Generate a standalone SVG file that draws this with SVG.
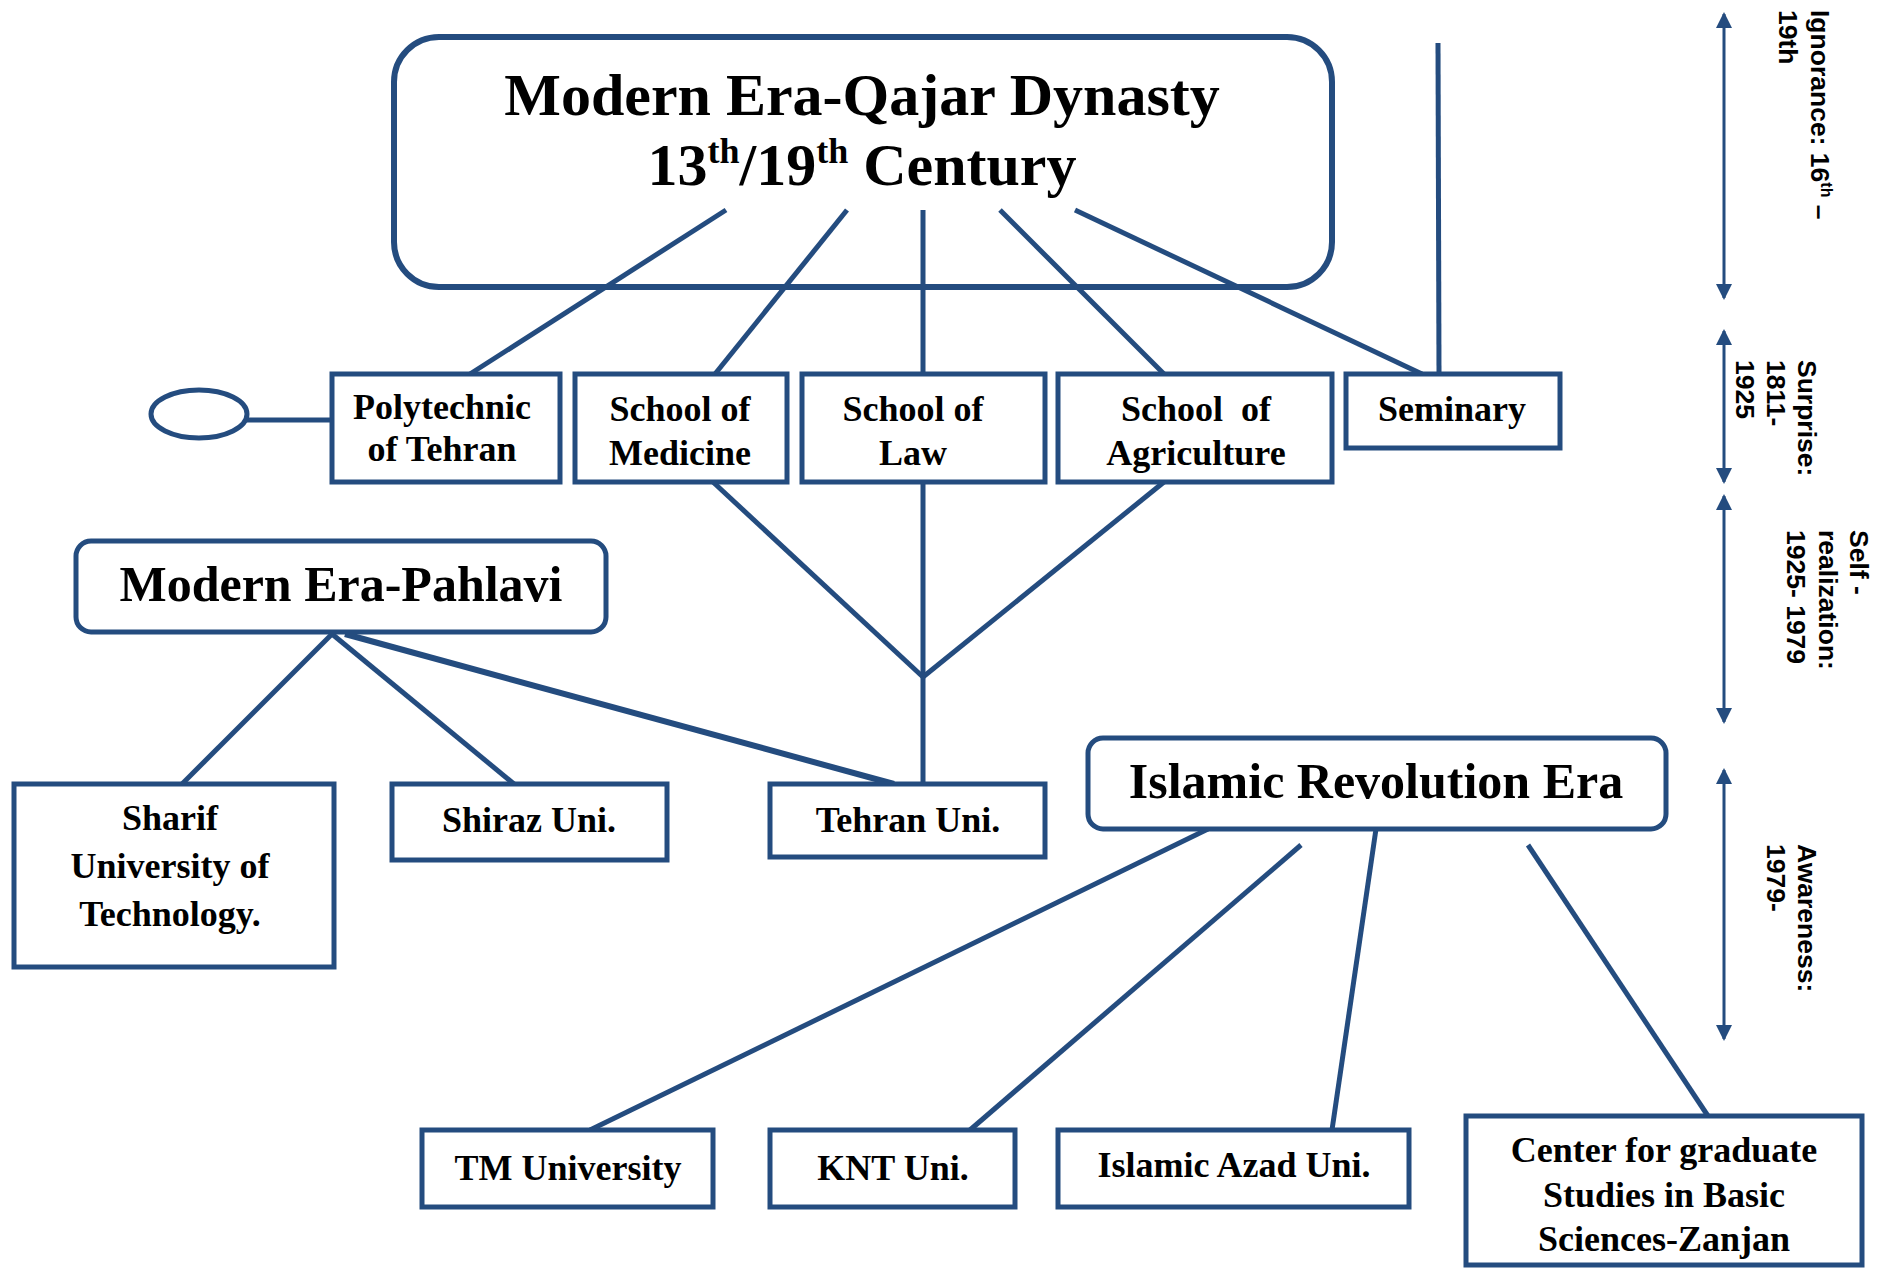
<svg xmlns="http://www.w3.org/2000/svg" width="1881" height="1268" viewBox="0 0 1881 1268">
<defs>
<marker id="ah" viewBox="0 0 16 16" refX="14" refY="8" markerWidth="16" markerHeight="16" markerUnits="userSpaceOnUse" orient="auto-start-reverse">
<path d="M0,0 L16,8 L0,16 Z" fill="#244C7F"/>
</marker>
<style>
.box{fill:#fff;stroke:#244C7F;stroke-width:5}
.big{fill:#fff;stroke:#244C7F;stroke-width:6}
.ln{stroke:#244C7F;stroke-width:5;fill:none}
.ar{stroke:#244C7F;stroke-width:3;fill:none;marker-start:url(#ah);marker-end:url(#ah)}
.t{font-family:"Liberation Serif","Times New Roman",serif;font-weight:bold;font-size:36px;fill:#000;text-anchor:middle}
.h{font-family:"Liberation Serif","Times New Roman",serif;font-weight:bold;fill:#000;text-anchor:middle}
.r{font-family:"Liberation Sans",Arial,sans-serif;font-weight:bold;font-size:26.5px;fill:#000}
</style>
</defs>

<g id="qajar">
<rect class="big" x="394" y="37" width="938" height="250" rx="45"/>
<text class="h" x="862" y="115" font-size="60">Modern Era-Qajar Dynasty</text>
<text class="h" x="862" y="185" font-size="60">13<tspan font-size="36" dy="-22">th</tspan><tspan dy="22">/19</tspan><tspan font-size="36" dy="-22">th</tspan><tspan dy="22"> Century</tspan></text>
</g>

<g id="connectors">
<line class="ln" x1="726" y1="210" x2="470" y2="374"/>
<line class="ln" x1="847" y1="210" x2="715" y2="374"/>
<line class="ln" x1="923" y1="210" x2="923" y2="374"/>
<line class="ln" x1="1000" y1="210" x2="1164" y2="374"/>
<line class="ln" x1="1075" y1="210" x2="1422" y2="374"/>
<line class="ln" x1="1438" y1="43" x2="1439" y2="374"/>
<line class="ln" x1="247" y1="420" x2="332" y2="420"/>
<line class="ln" x1="713" y1="482" x2="923" y2="677"/>
<line class="ln" x1="1164" y1="482" x2="923" y2="677"/>
<line class="ln" x1="923" y1="482" x2="923" y2="784"/>
<line class="ln" x1="332" y1="634" x2="182" y2="784"/>
<line class="ln" x1="332" y1="634" x2="514" y2="784"/>
<line class="ln" x1="345" y1="634" x2="894" y2="784" style="stroke-width:6"/>
<line class="ln" x1="1208" y1="829" x2="590" y2="1130"/>
<line class="ln" x1="1301" y1="845" x2="970" y2="1130"/>
<line class="ln" x1="1376" y1="829" x2="1332" y2="1130"/>
<line class="ln" x1="1528" y1="845" x2="1708" y2="1116"/>
</g>

<g id="ellipse"><ellipse class="box" cx="199" cy="414" rx="48" ry="24"/></g>

<g id="polytechnic">
<rect class="box" x="332" y="374" width="228" height="108"/>
<text class="t" x="442" y="419" font-size="34">Polytechnic</text>
<text class="t" x="442" y="461" font-size="34">of Tehran</text>
</g>
<g id="medicine">
<rect class="box" x="575" y="374" width="212" height="108"/>
<text class="t" x="680" y="421">School of</text>
<text class="t" x="680" y="465">Medicine</text>
</g>
<g id="law">
<rect class="box" x="802" y="374" width="243" height="108"/>
<text class="t" x="913" y="421">School of</text>
<text class="t" x="913" y="465">Law</text>
</g>
<g id="agriculture">
<rect class="box" x="1058" y="374" width="274" height="108"/>
<text class="t" x="1196" y="421" xml:space="preserve">School  of</text>
<text class="t" x="1196" y="465">Agriculture</text>
</g>
<g id="seminary">
<rect class="box" x="1346" y="374" width="214" height="74"/>
<text class="t" x="1452" y="421">Seminary</text>
</g>

<g id="pahlavi">
<rect class="box" x="76" y="541" width="530" height="91" rx="15"/>
<text class="h" x="341" y="601" font-size="50">Modern Era-Pahlavi</text>
</g>
<g id="sharif">
<rect class="box" x="14" y="784" width="320" height="183"/>
<text class="t" x="170" y="830">Sharif</text>
<text class="t" x="170" y="878">University of</text>
<text class="t" x="170" y="926">Technology.</text>
</g>
<g id="shiraz">
<rect class="box" x="392" y="784" width="275" height="76"/>
<text class="t" x="529" y="832">Shiraz Uni.</text>
</g>
<g id="tehran">
<rect class="box" x="770" y="784" width="275" height="73"/>
<text class="t" x="908" y="832">Tehran Uni.</text>
</g>

<g id="islamic">
<rect class="box" x="1088" y="738" width="578" height="91" rx="15"/>
<text class="h" x="1376" y="798" font-size="50">Islamic Revolution Era</text>
</g>
<g id="tm">
<rect class="box" x="422" y="1130" width="291" height="77"/>
<text class="t" x="568" y="1180">TM University</text>
</g>
<g id="knt">
<rect class="box" x="770" y="1130" width="245" height="77"/>
<text class="t" x="893" y="1180">KNT Uni.</text>
</g>
<g id="azad">
<rect class="box" x="1058" y="1130" width="351" height="77"/>
<text class="t" x="1234" y="1177">Islamic Azad Uni.</text>
</g>
<g id="zanjan">
<rect class="box" x="1466" y="1116" width="396" height="149"/>
<text class="t" x="1664" y="1162">Center for graduate</text>
<text class="t" x="1664" y="1207">Studies in Basic</text>
<text class="t" x="1664" y="1251">Sciences-Zanjan</text>
</g>

<g id="timeline">
<line class="ar" x1="1724" y1="14" x2="1724" y2="298"/>
<line class="ar" x1="1724" y1="331" x2="1724" y2="482"/>
<line class="ar" x1="1724" y1="496" x2="1724" y2="722"/>
<line class="ar" x1="1724" y1="770" x2="1724" y2="1039"/>
<text class="r" transform="translate(1811,10) rotate(90)">Ignorance: 16<tspan font-size="16" dy="-10">th</tspan><tspan dy="10"> –</tspan></text>
<text class="r" transform="translate(1779,10) rotate(90)">19th</text>
<text class="r" transform="translate(1798,360) rotate(90)">Surprise:</text>
<text class="r" transform="translate(1767,360) rotate(90)">1811-</text>
<text class="r" transform="translate(1736,360) rotate(90)">1925</text>
<text class="r" transform="translate(1850,530) rotate(90)">Self -</text>
<text class="r" transform="translate(1819,530) rotate(90)">realization:</text>
<text class="r" transform="translate(1787,530) rotate(90)">1925- 1979</text>
<text class="r" transform="translate(1798,844) rotate(90)">Awareness:</text>
<text class="r" transform="translate(1767,844) rotate(90)">1979-</text>
</g>
</svg>
